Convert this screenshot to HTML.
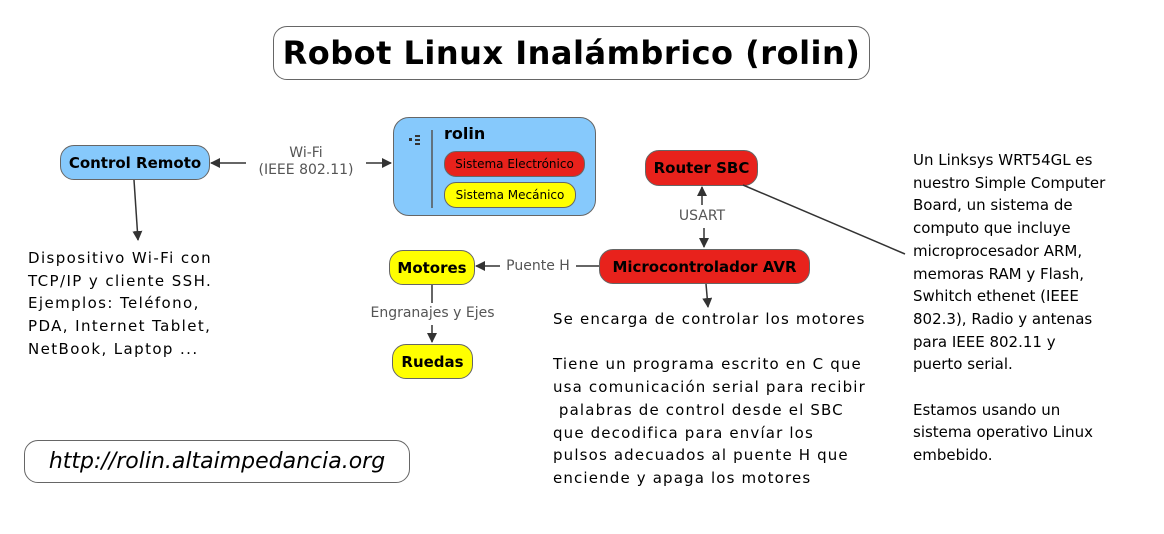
<!DOCTYPE html>
<html><head><meta charset="utf-8"><style>
body{margin:0;width:1164px;height:534px;background:#fff;position:relative;overflow:hidden;font-family:"DejaVu Sans","Liberation Sans",sans-serif;}
.n{position:absolute;box-sizing:border-box;border:1.5px solid #666;border-radius:14px;display:flex;align-items:center;justify-content:center;font-weight:bold;font-size:15px;color:#000;}
.t{position:absolute;font-size:15px;line-height:22.7px;color:#000;white-space:pre;}
.l{position:absolute;font-size:14px;color:#555;background:#fff;line-height:17px;text-align:center;white-space:pre;z-index:3;}
</style></head><body>
<svg width="1164" height="534" style="position:absolute;left:0;top:0;z-index:2">
<defs><marker id="a" markerWidth="10" markerHeight="10" refX="9" refY="5" orient="auto" markerUnits="userSpaceOnUse"><path d="M0,0 L10,5 L0,10 z" fill="#333"/></marker></defs>
<g stroke="#333" stroke-width="1.5" fill="none">
<line x1="280" y1="163" x2="211" y2="163" marker-end="url(#a)"/>
<line x1="330" y1="163" x2="391" y2="163" marker-end="url(#a)"/>
<line x1="134" y1="180" x2="138" y2="240" marker-end="url(#a)"/>
<line x1="702" y1="205" x2="702" y2="187" marker-end="url(#a)"/>
<line x1="704" y1="228" x2="704" y2="247" marker-end="url(#a)"/>
<line x1="599" y1="266" x2="575" y2="266"/>
<line x1="500" y1="266" x2="476" y2="266" marker-end="url(#a)"/>
<line x1="432" y1="285" x2="432" y2="303"/>
<line x1="432" y1="325" x2="432" y2="342" marker-end="url(#a)"/>
<line x1="706" y1="284" x2="708" y2="307" marker-end="url(#a)"/>
<line x1="743" y1="185" x2="905" y2="254"/>
<line x1="432" y1="130" x2="432" y2="208" stroke="#555"/>
</g>
<g fill="#333"><rect x="409" y="138" width="3" height="3"/><rect x="415" y="135" width="5" height="2"/><rect x="415" y="139" width="5" height="2"/><rect x="415" y="143" width="5" height="2"/></g>
</svg>
<div class="n" style="left:273px;top:26px;width:597px;height:54px;font-size:32px;background:#fff;letter-spacing:0.5px;">Robot Linux Inalámbrico (rolin)</div>
<div class="n" style="left:60px;top:145px;width:150px;height:35px;background:#86c9fc;">Control Remoto</div>
<div class="n" style="left:393px;top:117px;width:203px;height:99px;background:#86c9fc;border-radius:16px;"></div>
<div style="position:absolute;left:444px;top:124px;font-weight:bold;font-size:16px;">rolin</div>
<div class="n" style="left:444px;top:151px;width:141px;height:26px;background:#e8221c;font-weight:normal;font-size:12px;border-radius:12px;">Sistema Electrónico</div>
<div class="n" style="left:444px;top:182px;width:132px;height:26px;background:#ffff00;font-weight:normal;font-size:12px;border-radius:12px;">Sistema Mecánico</div>
<div class="n" style="left:645px;top:150px;width:113px;height:36px;background:#e8221c;">Router SBC</div>
<div class="n" style="left:599px;top:249px;width:211px;height:35px;background:#e8221c;">Microcontrolador AVR</div>
<div class="n" style="left:389px;top:250px;width:86px;height:35px;background:#ffff00;">Motores</div>
<div class="n" style="left:392px;top:344px;width:81px;height:35px;background:#ffff00;">Ruedas</div>
<div class="n" style="left:24px;top:440px;width:386px;height:43px;background:#fff;font-weight:normal;font-style:italic;font-size:22px;">http://rolin.altaimpedancia.org</div>
<div class="l" style="left:246px;top:145px;width:120px;">Wi-Fi
(IEEE 802.11)</div>
<div class="l" style="left:672px;top:208px;width:60px;">USART</div>
<div class="l" style="left:500px;top:258px;width:76px;">Puente H</div>
<div class="l" style="left:360px;top:305px;width:145px;">Engranajes y Ejes</div>
<div class="t" style="left:28px;top:247px;letter-spacing:1.4px;">Dispositivo Wi-Fi con
TCP/IP y cliente SSH.
Ejemplos: Teléfono,
PDA, Internet Tablet,
NetBook, Laptop ...</div>
<div class="t" style="left:553px;top:308px;letter-spacing:1.15px;">Se encarga de controlar los motores

Tiene un programa escrito en C que
usa comunicación serial para recibir
 palabras de control desde el SBC
que decodifica para envíar los
pulsos adecuados al puente H que
enciende y apaga los motores</div>
<div class="t" style="left:913px;top:149px;">Un Linksys WRT54GL es
nuestro Simple Computer
Board, un sistema de
computo que incluye
microprocesador ARM,
memoras RAM y Flash,
Swhitch ethenet (IEEE
802.3), Radio y antenas
para IEEE 802.11 y
puerto serial.

Estamos usando un
sistema operativo Linux
embebido.</div>
</body></html>
